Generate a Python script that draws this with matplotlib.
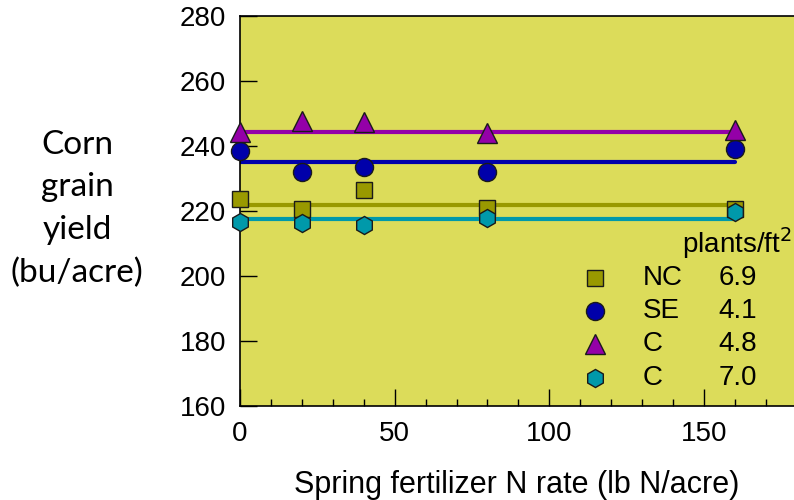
import matplotlib.pyplot as plt
from matplotlib.ticker import MultipleLocator

plt.rcParams['font.family'] = ['Liberation Sans', 'DejaVu Sans']

# Spring N rate (lb N/acre)
n_rate = [0, 20, 40, 80, 160]

# Corn grain yield (bu/acre) by region / plant density
yield_nc69 = [223.6, 220.5, 226.5, 221.0, 220.6]
yield_se41 = [238.5, 232.1, 233.4, 232.1, 239.1]
yield_c48 = [244.2, 247.8, 247.3, 243.9, 244.8]
yield_c70 = [216.7, 216.4, 215.7, 218.0, 219.8]

# fitted (flat) response lines
fit_nc69 = 221.9
fit_se41 = 235.0
fit_c48 = 244.2
fit_c70 = 217.4

regions = ['NC', 'SE', 'C', 'C']
densities = ['6.9', '4.1', '4.8', '7.0']

series = [
    (yield_nc69, fit_nc69, 's', '#999900', 12),
    (yield_se41, fit_se41, 'o', '#0000AA', 13),
    (yield_c48, fit_c48, '^', '#9400A8', 14),
    (yield_c70, fit_c70, 'h', '#0099AA', 13),
]

fig = plt.figure(figsize=(7.94, 5.0), dpi=100)
ax = fig.add_axes([0.3023, 0.188, 0.6977, 0.78])
ax.set_facecolor('#DCDC5A')

# lines first, then markers on top
for ys, fit, mk, col, ms in series:
    ax.plot([n_rate[0], n_rate[-1]], [fit, fit], color=col, lw=3, zorder=2,
            solid_capstyle='round')
for ys, fit, mk, col, ms in series:
    ax.plot(n_rate, ys, linestyle='none', marker=mk, markersize=ms,
            markerfacecolor=col, markeredgecolor='#1a1a1a', markeredgewidth=1,
            zorder=3, clip_on=False)

ax.set_xlim(0, 179.1)
ax.set_ylim(160, 280)
ax.xaxis.set_major_locator(MultipleLocator(50))
ax.xaxis.set_minor_locator(MultipleLocator(10))
ax.yaxis.set_major_locator(MultipleLocator(20))
ax.tick_params(axis='both', which='major', direction='in', length=12, width=1,
               labelsize=20)
ax.tick_params(axis='y', which='major', pad=10)
ax.tick_params(axis='x', which='major', pad=11)
ax.tick_params(axis='x', which='minor', direction='in', length=5, width=1)
ax.spines['right'].set_visible(False)
for s in ['left', 'bottom', 'top']:
    ax.spines[s].set_linewidth(1.2)

# legend drawn by hand to keep the column layout
ax.text(0.897, 0.418, 'plants/ft$^2$', transform=ax.transAxes, ha='center',
        va='center', fontsize=20)
row_y = [0.328, 0.244, 0.159, 0.072]
for (ys, fit, mk, col, ms), reg, dens, yy in zip(series, regions, densities, row_y):
    ax.plot([0.641], [yy], transform=ax.transAxes, marker=mk, markersize=ms,
            markerfacecolor=col, markeredgecolor='#1a1a1a', markeredgewidth=1,
            linestyle='none')
    ax.text(0.727, yy, reg, transform=ax.transAxes, ha='left', va='center',
            fontsize=20)
    ax.text(0.899, yy, dens, transform=ax.transAxes, ha='center', va='center',
            fontsize=20)

ax.set_xlabel('Spring fertilizer N rate (lb N/acre)', fontsize=22, labelpad=16)
fig.text(0.097, 0.582, 'Corn\ngrain\nyield\n(bu/acre)', ha='center', va='center',
         fontsize=24, family='Lato', linespacing=1.52)

fig.savefig('out.png', dpi=100)
